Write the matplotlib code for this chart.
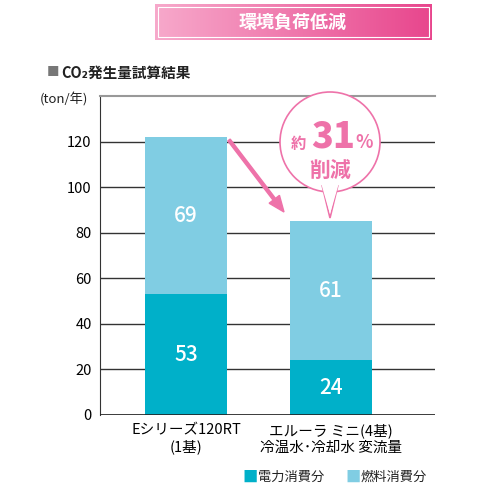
import matplotlib.pyplot as plt
import numpy as np
from matplotlib.patches import Circle, Polygon, FancyArrow, Rectangle
from matplotlib.colors import LinearSegmentedColormap

plt.rcParams['font.family'] = ['Noto Sans CJK JP', 'DejaVu Sans']

categories = ['Eシリーズ120RT\n(1基)', 'エルーラ ミニ(4基)\n冷温水･冷却水 変流量']
electric = [53, 24]
fuel = [69, 61]
yticks = [0, 20, 40, 60, 80, 100, 120]

c_elec = '#00b0c9'
c_fuel = '#80cde3'
pink = '#ee72a9'

fig = plt.figure(figsize=(4.8, 4.93), dpi=100)
ax = fig.add_axes([100/480, 1-415/493, 335/480, 319/493])
x = np.arange(len(categories))
ax.bar(x, electric, width=0.566, color=c_elec, zorder=3)
ax.bar(x, fuel, bottom=electric, width=0.566, color=c_fuel, zorder=3)
for i in x:
    ax.text(i, electric[i]/2, str(electric[i]), ha='center', va='center',
            color='white', fontsize=15, fontweight='medium', zorder=4)
    ax.text(i, electric[i] + fuel[i]/2, str(fuel[i]), ha='center', va='center',
            color='white', fontsize=15, fontweight='medium', zorder=4)
ax.set_xlim(-0.593, 1.717)
ax.set_ylim(0, 140)
ax.set_yticks(yticks)
ax.set_xticks(x)
ax.set_xticklabels(categories, fontsize=9)
ax.tick_params(length=0, labelsize=10.5, pad=6)
ax.grid(axis='y', color='#333333', linewidth=1, zorder=0)
for s in ['right', 'bottom']:
    ax.spines[s].set_visible(False)
ax.spines['top'].set_color('#999999')
ax.spines['top'].set_linewidth(1.5)
ax.spines['left'].set_color('#333333')
ax.axhline(0, color='#222222', linewidth=1.2, zorder=5)

# overlay in pixel coordinates
ov = fig.add_axes([0, 0, 1, 1], zorder=10)
ov.set_xlim(0, 480)
ov.set_ylim(493, 0)
ov.axis('off')

# header banner gradient
grad = np.linspace(0, 1, 256).reshape(1, -1)
cmap = LinearSegmentedColormap.from_list('p', ['#f7a9cb', '#e8468d'])
ov.imshow(grad, extent=[155, 432, 40, 4], cmap=cmap, aspect='auto', zorder=1)
ov.add_patch(Rectangle((158, 7), 271, 30, fill=False, edgecolor='white', lw=0.8, zorder=2))
ov.text(293, 22, '環境負荷低減', ha='center', va='center', color='white',
        fontsize=13, fontweight='bold', zorder=3)

ov.text(47, 73, '■', color='#777777', fontsize=9, va='center')
ov.text(61, 73, 'CO₂発生量試算結果', color='#222222', fontsize=10.5,
        fontweight='bold', va='center')
ov.text(40, 100, '(ton/年)', color='#222222', fontsize=9.5, va='center')

# arrow
ov.add_patch(FancyArrow(229, 140, 55, 72, width=3, head_width=13, head_length=16,
                        length_includes_head=True, color=pink, zorder=5))

# speech bubble
ov.add_patch(Circle((330, 142), 50, facecolor='white', edgecolor=pink, lw=1.2, zorder=6))
ov.add_patch(Polygon([[322, 185], [330, 218], [338, 185]], closed=False,
                     facecolor='white', edgecolor=pink, lw=1.2, zorder=6))
ov.add_patch(Polygon([[321, 183], [330, 214], [339, 183]], facecolor='white',
                     edgecolor='none', zorder=7))
ov.text(298, 144, '約', color=pink, fontsize=11, fontweight='bold', ha='center', va='center', zorder=8)
ov.text(333, 136, '31', color=pink, fontsize=26, fontweight='black', ha='center', va='center', zorder=8)
ov.text(364, 142, '%', color=pink, fontsize=13, fontweight='bold', ha='center', va='center', zorder=8)
ov.text(330, 170, '削減', color=pink, fontsize=15, fontweight='bold', ha='center', va='center', zorder=8)

# legend
ov.text(242, 477, '■', color=c_elec, fontsize=11, va='center')
ov.text(258, 477, '電力消費分', color='#222222', fontsize=9.5, va='center')
ov.text(345, 477, '■', color=c_fuel, fontsize=11, va='center')
ov.text(361, 477, '燃料消費分', color='#222222', fontsize=9.5, va='center')

fig.savefig('out.png', dpi=100)
